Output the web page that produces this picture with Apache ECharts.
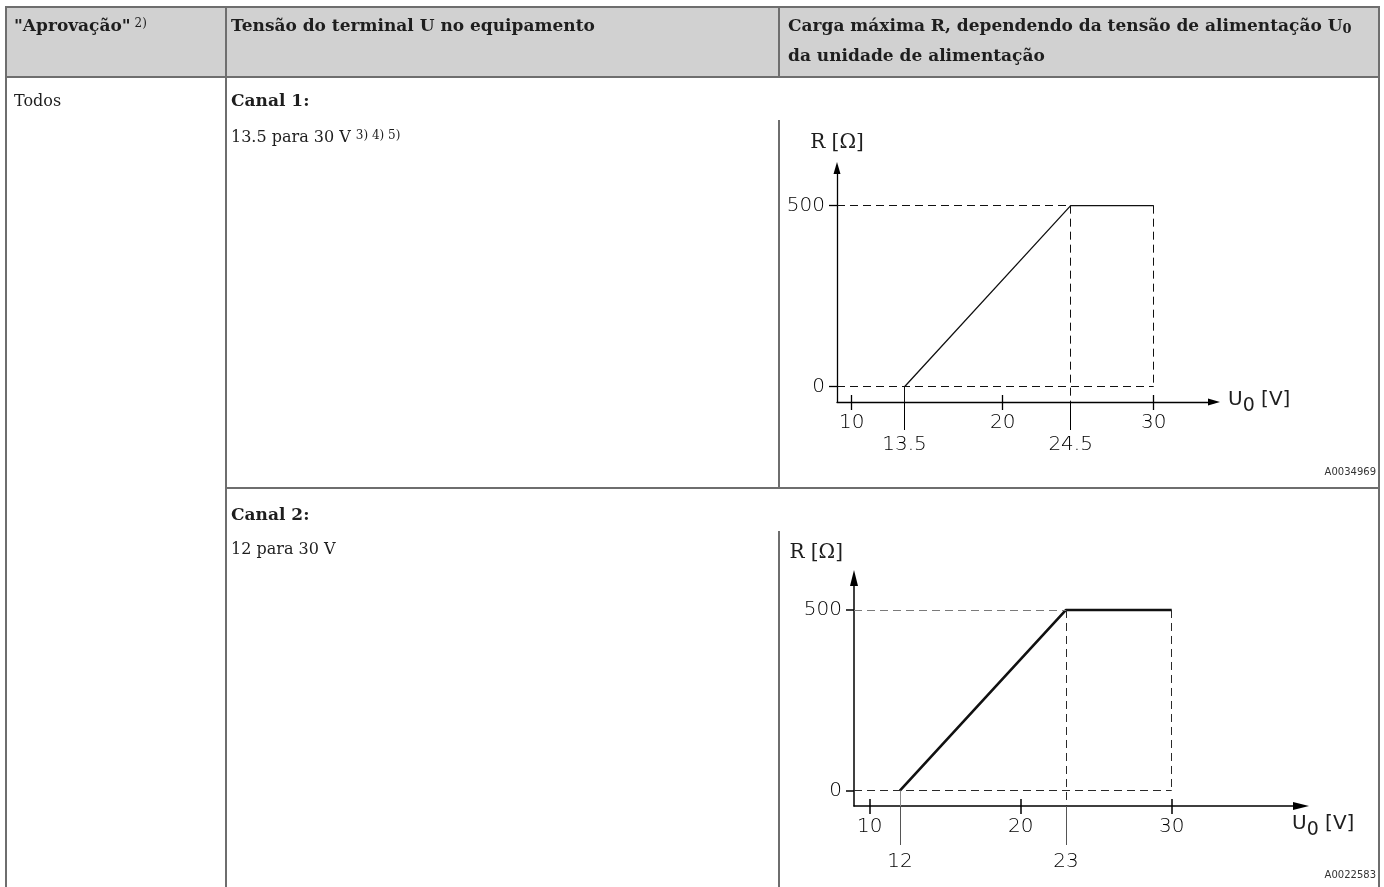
<!DOCTYPE html>
<html>
<head>
<meta charset="utf-8">
<title>Carga máxima R</title>
<script src="https://cdn.jsdelivr.net/npm/echarts@6/dist/echarts.min.js"></script>
<style>
  html, body { margin: 0; padding: 0; background: #fff; }
  #main { width: 1384px; height: 887px; }
</style>
</head>
<body>
<div id="main"></div>
<script>
// Canal 1: 13.5 para 30 V  (R sobe de 0 a 500 Ω entre 13.5 e 24.5 V)
const canal1Points = [[13.5, 0], [24.5, 500], [30, 500]];
const canal1Marks = [13.5, 24.5];
// Canal 2: 12 para 30 V  (R sobe de 0 a 500 Ω entre 12 e 23 V)
const canal2Points = [[12, 0], [23, 500], [30, 500]];
const canal2Marks = [12, 23];
// ticks comuns
const uTicks = [10, 20, 30];
const rTicks = [0, 500];

const FONT_T = '"DejaVu Serif", "Liberation Serif", serif';
const FONT_C = '"DejaVu Sans", "Liberation Sans", sans-serif';
const INK = '#1e1e1e';
const RULE = '#6e6e6e';

// layout de cada diagrama (posição do grid e extensão dos eixos)
const frames = [
  {
    points: canal1Points, marks: canal1Marks,
    grid: { left: 837, top: 168, width: 377, height: 234 },
    u: [9.03, 33.99], r: [-42.3, 604.1],
    lineWidth: 1.3, axisWidth: 1.3, arrow: [7, 12],
    markGap: 33, markTick: 28, rightName: false,
    guide500: '#111', guideDark: '#111', dropColor: '#111'
  },
  {
    points: canal2Points, marks: canal2Marks,
    grid: { left: 854, top: 578, width: 447, height: 228 },
    u: [8.96, 38.56], r: [-42.3, 588.5],
    lineWidth: 2.6, axisWidth: 1.5, arrow: [8, 16],
    markGap: 46, markTick: 39, rightName: true,
    guide500: '#7a7a7a', guideDark: '#2a2a2a', dropColor: '#8a8a8a'
  }
];

// ---- tabela ----
function rule(x1, y1, x2, y2) {
  return { type: 'line', silent: true, shape: { x1, y1, x2, y2 }, style: { stroke: RULE, lineWidth: 2 } };
}
function txt(x, y, text, bold) {
  return {
    type: 'text', silent: true, x, y,
    style: {
      text, fill: INK, fontFamily: FONT_T, fontSize: bold ? 17 : 16,
      fontWeight: bold ? 'bold' : 'normal', verticalAlign: 'middle', align: 'left'
    }
  };
}
function richTxt(x, y, text, bold) {
  return {
    type: 'text', silent: true, x, y,
    style: {
      text, verticalAlign: 'middle',
      rich: {
        m: { fontFamily: FONT_T, fontSize: bold ? 17 : 16, fontWeight: bold ? 'bold' : 'normal', lineHeight: 22, verticalAlign: 'top', fill: INK },
        s: { fontFamily: FONT_T, fontSize: 12, fontWeight: 'normal', lineHeight: 14, verticalAlign: 'top', fill: INK },
        u: { fontFamily: FONT_T, fontSize: 13, fontWeight: 'bold', lineHeight: 22, verticalAlign: 'top', padding: [5, 0, 0, 0], fill: INK }
      }
    }
  };
}

const table = [
  { type: 'rect', silent: true, shape: { x: 6, y: 7, width: 1373, height: 70 }, style: { fill: '#d1d1d1' } },
  rule(5, 7, 1380, 7),
  rule(6, 7, 6, 887),
  rule(1379, 7, 1379, 887),
  rule(5, 77, 1380, 77),
  rule(226, 7, 226, 887),
  rule(779, 7, 779, 77),
  rule(226, 488, 1380, 488),
  rule(779, 120, 779, 488),
  rule(779, 531, 779, 887),
  richTxt(14, 29, '{m|"Aprovação"}{s| 2)}', true),
  txt(231, 27, 'Tensão do terminal U no equipamento', true),
  richTxt(788, 29, '{m|Carga máxima R, dependendo da tensão de alimentação U}{u|0}', true),
  txt(788, 57, 'da unidade de alimentação', true),
  txt(14, 102, 'Todos', false),
  txt(231, 102, 'Canal 1:', true),
  richTxt(231, 141, '{m|13.5 para 30 V }{s|3) 4) 5)}', false),
  txt(231, 516, 'Canal 2:', true),
  txt(231, 550, '12 para 30 V', false),
  {
    type: 'text', silent: true, x: 1376, y: 472,
    style: { text: 'A0034969', fill: '#333', fontFamily: FONT_C, fontSize: 10, align: 'right', verticalAlign: 'middle' }
  },
  {
    type: 'text', silent: true, x: 1376, y: 875,
    style: { text: 'A0022583', fill: '#333', fontFamily: FONT_C, fontSize: 10, align: 'right', verticalAlign: 'middle' }
  }
];

// ---- diagramas ----
const grids = [], xAxes = [], yAxes = [], series = [];
const nameRich = {
  a: { fontFamily: FONT_C, fontSize: 20, color: INK, lineHeight: 24, verticalAlign: 'top' },
  z: { fontFamily: FONT_C, fontSize: 19, color: INK, lineHeight: 24, verticalAlign: 'top', padding: [7, 0, 0, 0] }
};
const labelStyle = { fontFamily: FONT_C, fontSize: 20, fontWeight: 200, color: '#000' };

frames.forEach((f, i) => {
  const axisLineStyle = { color: '#000', width: f.axisWidth };
  const uMin = f.points[0][0], uKnee = f.points[1][0], uEnd = f.points[2][0], rMax = f.points[1][1];
  grids.push(Object.assign({ show: false, containLabel: false, outerBoundsMode: 'none' }, f.grid));

  // eixo U principal com seta
  xAxes.push({
    type: 'value', gridIndex: i, min: f.u[0], max: f.u[1], position: 'bottom',
    axisLine: { show: true, onZero: false, symbol: ['none', 'triangle'], symbolSize: f.arrow, lineStyle: axisLineStyle },
    axisTick: { show: true, inside: false, length: 8, customValues: uTicks, lineStyle: axisLineStyle },
    axisLabel: Object.assign({ show: true, customValues: uTicks, margin: 11 }, labelStyle),
    splitLine: { show: false },
    name: '{a|U}{z|0}{a| [V]}',
    nameLocation: 'end',
    nameGap: f.rightName ? -9 : 14,
    nameTextStyle: f.rightName
      ? { rich: nameRich, align: 'left', verticalAlign: 'top', padding: [8, 0, 0, 0] }
      : { rich: nameRich, align: 'left', verticalAlign: 'middle' }
  });
  // parte interna dos ticks 10/20/30
  xAxes.push({
    type: 'value', gridIndex: i, min: f.u[0], max: f.u[1], position: 'bottom',
    axisLine: { show: false, onZero: false },
    axisTick: { show: true, inside: true, length: 7, customValues: uTicks, lineStyle: axisLineStyle },
    axisLabel: { show: false }, splitLine: { show: false }
  });
  // marcas das tensões de quebra
  xAxes.push({
    type: 'value', gridIndex: i, min: f.u[0], max: f.u[1], position: 'bottom',
    axisLine: { show: false, onZero: false },
    axisTick: { show: true, inside: false, length: f.markTick, customValues: f.marks, lineStyle: { color: i ? '#555' : '#000', width: 1 } },
    axisLabel: Object.assign({ show: true, customValues: f.marks, margin: f.markGap }, labelStyle),
    splitLine: { show: false }
  });

  yAxes.push({
    type: 'value', gridIndex: i, min: f.r[0], max: f.r[1], position: 'left',
    axisLine: { show: true, onZero: false, symbol: ['none', 'triangle'], symbolSize: f.arrow, lineStyle: axisLineStyle },
    axisTick: { show: true, inside: false, length: 8, customValues: rTicks, lineStyle: axisLineStyle },
    axisLabel: Object.assign({ show: true, customValues: rTicks, margin: 12 }, labelStyle),
    splitLine: { show: false },
    name: 'R [Ω]',
    nameLocation: 'end',
    nameGap: 15,
    nameTextStyle: Object.assign(
      { fontFamily: FONT_T, fontSize: 20, color: INK },
      f.rightName ? { align: 'right', padding: [0, 11, 0, 0] } : {}
    )
  });

  const dash = (color) => ({ type: [8, 5], color, width: 1 });
  const seg = (a, b, style) => [{ coord: a, lineStyle: style }, { coord: b, lineStyle: style }];

  series.push({
    type: 'line', xAxisIndex: i * 3, yAxisIndex: i,
    data: f.points, symbol: 'none', silent: true, clip: false,
    lineStyle: { color: '#111', width: f.lineWidth },
    markLine: {
      silent: true, symbol: ['none', 'none'], label: { show: false },
      lineStyle: dash(f.guideDark),
      data: [
        seg([f.u[0], 0], [uEnd, 0], dash(f.guideDark)),
        seg([f.u[0], rMax], [uKnee, rMax], dash(f.guide500)),
        seg([uKnee, rMax], [uKnee, f.r[0]], dash(f.guideDark)),
        seg([uEnd, rMax], [uEnd, 0], dash(f.guideDark)),
        seg([uMin, 0], [uMin, f.r[0]], { type: 'solid', color: f.dropColor, width: 1 })
      ]
    }
  });
});

const chart = echarts.init(document.getElementById('main'), null, { renderer: 'canvas' });
chart.setOption({
  animation: false,
  backgroundColor: '#fff',
  graphic: table,
  grid: grids,
  xAxis: xAxes,
  yAxis: yAxes,
  series: series
});
</script>
</body>
</html>
